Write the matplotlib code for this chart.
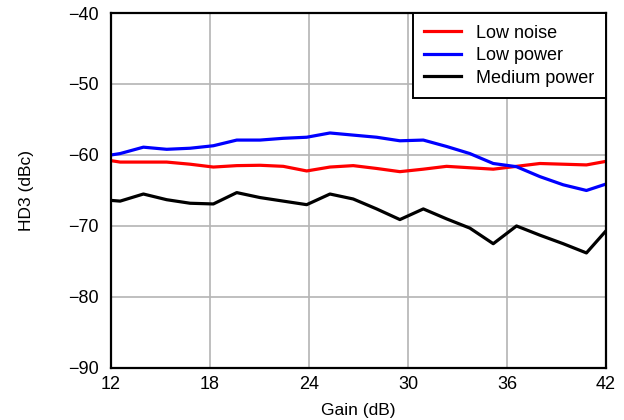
import matplotlib
matplotlib.use('Agg')
import matplotlib.pyplot as plt

plt.rcParams['font.family'] = ['Liberation Sans', 'DejaVu Sans']

# gain points (dB)
gain = [12.0, 12.55, 13.96, 15.37, 16.79, 18.2, 19.62, 21.03, 22.44, 23.86, 25.27, 26.68,
        28.1, 29.51, 30.93, 32.34, 33.75, 35.17, 36.58, 38.0, 39.41, 40.82, 42.0]

low_noise = [-60.8, -61.0, -61.0, -61.0, -61.3, -61.7, -61.5, -61.45, -61.6, -62.25, -61.7, -61.5,
             -61.9, -62.35, -62.0, -61.6, -61.8, -62.0, -61.6, -61.2, -61.3, -61.4, -60.9]
low_power = [-60.0, -59.8, -58.9, -59.2, -59.05, -58.7, -57.9, -57.9, -57.65, -57.5, -56.9, -57.2,
             -57.5, -58.0, -57.9, -58.8, -59.8, -61.2, -61.65, -63.05, -64.2, -65.0, -64.1]
medium_power = [-66.4, -66.5, -65.5, -66.3, -66.8, -66.9, -65.3, -66.0, -66.5, -67.0, -65.5, -66.2,
                -67.6, -69.1, -67.6, -69.0, -70.3, -72.5, -70.0, -71.3, -72.5, -73.8, -70.7]

fig = plt.figure(figsize=(6.24, 4.2), dpi=100)
ax = fig.add_axes([0.178, 0.124, 0.793, 0.845])

ax.plot(gain, low_noise, color='#ff0000', lw=2.3, label='Low noise')
ax.plot(gain, low_power, color='#0000ff', lw=2.3, label='Low power')
ax.plot(gain, medium_power, color='black', lw=2.3, label='Medium power')

ax.set_xlim(12, 42)
ax.set_ylim(-90, -40)
ax.set_xticks([12, 18, 24, 30, 36, 42])
ax.set_yticks([-90, -80, -70, -60, -50, -40])
ax.set_yticklabels(['\u221290', '\u221280', '\u221270', '\u221260', '\u221250', '\u221240'])
ax.tick_params(length=0, labelsize=13)
ax.tick_params(axis='y', pad=9)
ax.tick_params(axis='x', pad=6)
ax.grid(True, color='#b4b4b4', lw=1.2)
ax.set_axisbelow(True)
for s in ax.spines.values():
    s.set_linewidth(1.6)

ax.set_xlabel('Gain (dB)', fontsize=12.5, labelpad=7)
ax.set_ylabel('HD3 (dBc)', fontsize=12.5, labelpad=24)

leg = ax.legend(loc='upper right', fontsize=13, fancybox=False, framealpha=1,
                edgecolor='black', borderaxespad=0, handlelength=2.0,
                labelspacing=0.3, borderpad=0.65, handletextpad=0.85)
leg.get_frame().set_linewidth(1.4)

fig.savefig('out.png', dpi=100)
